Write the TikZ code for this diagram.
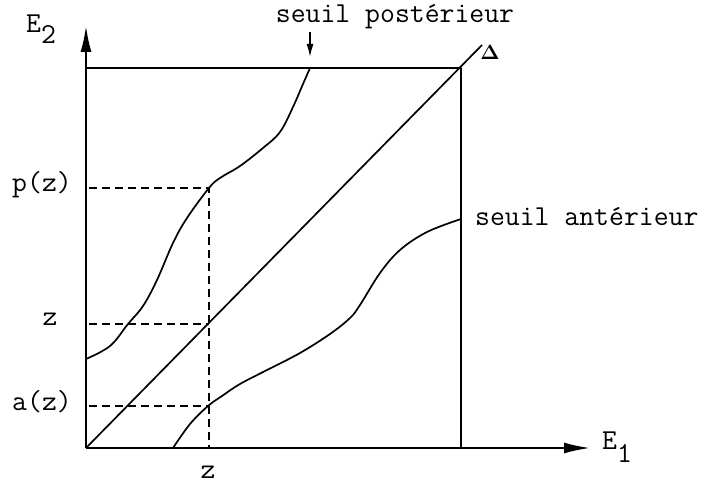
\documentclass[tikz,border=0pt]{standalone}
\usepackage{fontspec}
\usetikzlibrary{arrows.meta,positioning}

\begin{document}
\begin{tikzpicture}[
  x=1bp,y=-1bp,
  >={Latex[length=26bp,width=11bp]},
  every node/.style={font=\ttfamily\fontsize{29}{33}\selectfont,inner sep=1bp},
  trait/.style={line width=1.7bp,line join=round},
  repere/.style={line width=1.5bp,dash pattern=on 8bp off 5bp}
]
  \useasboundingbox (0,0) rectangle (715,485);
  \coordinate (O) at (86,448);
  \coordinate (coin) at (461,68);
  \coordinate (haut) at (86,68);
  \coordinate (bas) at (461,448);
  \coordinate (fin) at (482,45);

  % axes
  \draw[->,line width=2bp] (O) -- (86,26) coordinate (e2);
  \draw[->,line width=2bp] (O) -- (590,448) coordinate (e1);
  \node[anchor=base west] (E2) at (25,33) {E\raisebox{-11bp}{2}};
  \node[anchor=base west] (E1) at (601,449) {E\raisebox{-13bp}{1}};

  % cadre et diagonale
  \draw[trait] (haut) -- (coin) -- (bas);
  \draw[trait] (O) -- (fin);
  \node[font=\fontsize{20}{24}\selectfont\boldmath] (delta) at (490,52) {$\Delta$};

  % seuils
  \draw[trait] plot[smooth,tension=0.6] coordinates {(86,359) (110,346) (128,324) (143,306)
    (157,280) (173,243) (187,218) (209,188) (220,178) (240,166) (263,148) (280,132)
    (293,107) (303,84) (310,68)};
  \draw[trait] plot[smooth,tension=0.6] coordinates {(173,448) (190,424) (208,406)
    (222,396) (240,384) (267,370) (300,353) (330,334) (350,318) (360,305) (380,273)
    (400,250) (427,232) (461,219)};

  \node (post) at (395,17) {seuil postérieur};
  \draw[->,line width=1.5bp,>={Latex[length=13bp,width=7bp]}] (310,32) -- (310,57);
  \node[anchor=west] (ante) at (474,217) {seuil antérieur};

  % lectures
  \coordinate (pz) at (209,188);
  \coordinate (zz) at (209,324);
  \coordinate (az) at (209,406);
  \draw[repere] (89,188) -- (pz) -- (209,448);
  \draw[repere] (89,324) -- (zz);
  \draw[repere] (89,406) -- (az);

  \node (lpz) at (42,185) {p(z)};
  \node (lz) at (50,319) {z};
  \node (laz) at (42,402) {a(z)};
  \node (lzb) at (208,472) {z};
\end{tikzpicture}
\end{document}
